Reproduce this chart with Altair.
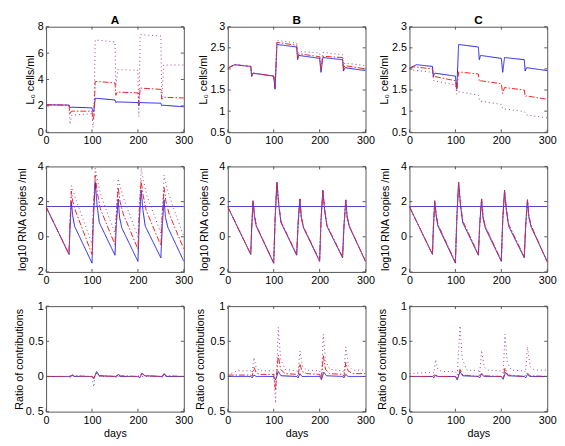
import altair as alt
import pandas as pd

# ---------------- data ----------------
# Row 1: L0 cells/ml
A1_blue_t = [0, 50, 52, 54, 100, 102, 104, 107, 150, 152, 154, 200, 202, 204, 250, 252, 254, 300]
A1_blue_v = [2.08, 2.06, 1.85, 1.9, 1.85, 1.55, 1.6, 2.58, 2.45, 2.25, 2.3, 2.25, 2.0, 2.25, 2.2, 2.0, 2.05, 1.93]
A1_red_t = [0, 50, 52, 55, 100, 102, 104, 107, 150, 152, 155, 200, 202, 205, 250, 252, 255, 300]
A1_red_v = [2.08, 2.06, 1.35, 1.6, 1.6, 0.9, 1.2, 3.85, 3.75, 2.8, 3.05, 2.98, 2.2, 3.35, 3.25, 2.5, 2.65, 2.6]
A1_pur_t = [0, 50, 52, 56, 100, 102, 104, 107, 150, 152, 156, 200, 202, 205, 250, 252, 256, 300]
A1_pur_v = [2.08, 2.05, 0.6, 1.3, 1.4, 0.35, 1.0, 7.0, 6.85, 3.5, 4.75, 4.7, 1.2, 7.4, 7.3, 2.5, 5.1, 5.1]

B1_blue_t = [0, 15, 50, 52, 55, 100, 103, 107, 150, 152, 155, 200, 203, 207, 250, 252, 255, 300]
B1_blue_v = [2.02, 2.1, 2.06, 1.82, 1.9, 1.83, 1.52, 2.58, 2.52, 2.22, 2.32, 2.25, 1.92, 2.27, 2.22, 1.95, 2.03, 1.96]
B1_red_t = [0, 15, 50, 52, 55, 100, 103, 107, 150, 152, 155, 200, 203, 207, 250, 252, 255, 300]
B1_red_v = [2.02, 2.1, 2.06, 1.83, 1.9, 1.83, 1.55, 2.63, 2.56, 2.27, 2.36, 2.29, 1.98, 2.3, 2.27, 2.0, 2.08, 2.0]
B1_pur_t = [0, 15, 50, 52, 55, 100, 103, 107, 150, 152, 155, 200, 203, 207, 250, 252, 255, 300]
B1_pur_v = [2.02, 2.1, 2.06, 1.84, 1.9, 1.84, 1.6, 2.68, 2.61, 2.35, 2.41, 2.38, 2.1, 2.39, 2.34, 2.05, 2.14, 2.08]

C1_blue_t = B1_blue_t
C1_blue_v = B1_blue_v
C1_red_t = [0, 10, 50, 52, 55, 100, 103, 107, 150, 152, 155, 200, 203, 207, 250, 252, 255, 300]
C1_red_v = [2.02, 2.05, 2.0, 1.8, 1.82, 1.72, 1.48, 1.93, 1.88, 1.7, 1.72, 1.65, 1.42, 1.56, 1.5, 1.35, 1.36, 1.28]
C1_pur_t = [0, 10, 50, 53, 100, 103, 107, 150, 153, 200, 203, 250, 255, 300]
C1_pur_v = [2.0, 1.97, 1.92, 1.72, 1.62, 1.4, 1.46, 1.38, 1.24, 1.16, 1.06, 0.99, 0.91, 0.84]

# Row 2: log10 RNA copies /ml
A2_blue_t = [0, 50, 52, 55, 58, 62, 100, 103, 107, 111, 116, 150, 153, 157, 160, 165, 200, 203, 207, 211, 216, 250, 253, 257, 260, 265, 300]
A2_blue_v = [1.7, -1.0, 0.5, 2.0, 1.2, 0.6, -1.5, 1.0, 3.1, 1.8, 0.8, -1.05, 0.7, 2.15, 1.1, 0.5, -1.4, 0.9, 2.65, 1.5, 0.6, -1.2, 0.6, 2.1, 1.1, 0.55, -1.4]
A2_red_t = [0, 50, 52, 55, 58, 65, 100, 103, 107, 111, 118, 150, 153, 157, 161, 168, 200, 203, 207, 211, 218, 250, 253, 257, 261, 268, 300]
A2_red_v = [1.7, -1.0, 0.8, 2.6, 2.0, 1.4, -1.0, 1.5, 3.5, 2.6, 1.6, -0.45, 1.2, 2.8, 2.0, 1.3, -0.7, 1.5, 3.2, 2.4, 1.5, -0.5, 1.3, 2.8, 2.0, 1.3, -0.7]
A2_pur_t = [0, 50, 53, 55, 59, 68, 100, 104, 107, 112, 120, 150, 154, 157, 162, 170, 200, 204, 207, 212, 220, 250, 254, 257, 262, 270, 300]
A2_pur_v = [1.7, -1.0, 1.2, 2.9, 2.6, 1.9, -0.4, 2.0, 3.9, 3.2, 2.3, 0.2, 1.8, 3.3, 2.8, 2.1, 0.0, 2.0, 3.9, 3.2, 2.3, 0.2, 1.8, 3.5, 2.9, 2.2, 0.0]

B2_blue_t = A2_blue_t
B2_blue_v = A2_blue_v
B2_red_t = [0, 50, 52, 55, 58, 62, 100, 103, 107, 111, 116, 150, 153, 157, 160, 165, 200, 203, 207, 211, 216, 250, 253, 257, 260, 265, 300]
B2_red_v = [1.7, -1.0, 0.5, 2.05, 1.25, 0.65, -1.5, 1.0, 3.1, 1.85, 0.85, -1.0, 0.7, 2.15, 1.15, 0.55, -1.35, 0.9, 2.6, 1.55, 0.65, -1.15, 0.6, 2.1, 1.15, 0.6, -1.4]
B2_pur_t = B2_red_t
B2_pur_v = B2_red_v

C2_blue_t = A2_blue_t
C2_blue_v = A2_blue_v
C2_red_t = B2_red_t
C2_red_v = [1.7, -1.0, 0.5, 2.05, 1.3, 0.7, -1.45, 1.0, 3.1, 1.9, 0.9, -1.0, 0.7, 2.15, 1.2, 0.6, -1.35, 0.9, 2.6, 1.6, 0.7, -1.15, 0.6, 2.1, 1.2, 0.65, -1.45]
C2_pur_t = C2_red_t
C2_pur_v = C2_red_v

HLINE_V = [1.72]

# Row 3: Ratio of contributions
A3_blue_t = [0, 50, 53, 57, 62, 100, 104, 110, 116, 150, 153, 157, 162, 200, 204, 209, 215, 250, 253, 257, 262, 300]
A3_blue_v = [0, 0, -0.01, 0.02, 0.0, 0.0, -0.03, 0.07, 0.01, 0.0, -0.01, 0.03, 0.0, 0.0, -0.02, 0.05, 0.01, 0.0, -0.01, 0.04, 0.0, 0.0]
A3_red_t = [0, 50, 57, 62, 100, 104, 110, 116, 150, 157, 162, 200, 209, 215, 250, 257, 262, 300]
A3_red_v = [0.0, 0.0, 0.02, 0.01, 0.0, -0.02, 0.05, 0.01, 0.0, 0.03, 0.01, 0.0, 0.04, 0.01, 0.0, 0.03, 0.01, 0.0]
A3_pur_t = [0, 100, 104, 106, 110, 116, 300]
A3_pur_v = [0.0, 0.0, -0.15, 0.0, 0.04, 0.0, 0.0]

B3_blue_t = [0, 50, 53, 57, 62, 100, 104, 110, 116, 150, 153, 157, 162, 200, 204, 209, 215, 250, 253, 257, 262, 300]
B3_blue_v = [0, 0, -0.02, 0.02, 0, 0, -0.05, 0.07, 0.01, 0, -0.02, 0.04, 0.0, 0, -0.04, 0.06, 0.01, 0, -0.02, 0.03, 0, 0]
B3_red_t = [0, 50, 53, 57, 62, 70, 100, 104, 106, 110, 115, 125, 150, 153, 157, 162, 172, 200, 204, 208, 213, 222, 250, 253, 257, 262, 272, 300]
B3_red_v = [0.02, 0.02, 0.0, 0.13, 0.05, 0.03, 0.03, -0.2, 0.0, 0.3, 0.1, 0.04, 0.03, 0.0, 0.18, 0.07, 0.04, 0.03, -0.05, 0.3, 0.1, 0.04, 0.03, 0.0, 0.2, 0.08, 0.04, 0.04]
B3_pur_t = [0, 20, 50, 53, 57, 62, 70, 100, 104, 106, 110, 115, 125, 150, 153, 157, 163, 172, 200, 204, 208, 213, 222, 250, 253, 257, 263, 272, 300]
B3_pur_v = [0.02, 0.08, 0.08, 0.05, 0.27, 0.12, 0.08, 0.08, -0.38, 0.0, 0.7, 0.25, 0.1, 0.08, 0.05, 0.36, 0.14, 0.09, 0.08, 0.0, 0.6, 0.22, 0.1, 0.08, 0.05, 0.42, 0.15, 0.09, 0.09]

C3_blue_t = B3_blue_t
C3_blue_v = B3_blue_v
C3_red_t = [0, 50, 55, 60, 100, 104, 110, 116, 150, 157, 162, 200, 204, 208, 214, 250, 257, 262, 300]
C3_red_v = [0.0, 0.0, 0.02, 0.0, 0.0, -0.03, 0.1, 0.02, 0.0, 0.05, 0.01, 0.0, -0.01, 0.12, 0.02, 0.0, 0.05, 0.01, 0.0]
C3_pur_t = [0, 50, 53, 57, 62, 70, 100, 104, 110, 115, 125, 150, 153, 157, 163, 172, 200, 204, 208, 213, 222, 250, 253, 257, 263, 272, 300]
C3_pur_v = [0.04, 0.06, 0.05, 0.24, 0.1, 0.07, 0.07, 0.02, 0.72, 0.25, 0.09, 0.08, 0.05, 0.37, 0.13, 0.09, 0.08, 0.05, 0.6, 0.2, 0.09, 0.08, 0.06, 0.42, 0.14, 0.09, 0.09]

COLUMN_TITLES = ["A", "B", "C"]
X_TICKS = [0, 100, 200, 300]

# ---------------- styling ----------------
FONT = "Liberation Sans"
BLUE = "#1f1fe6"
RED = "#ee2222"
PURPLE = "#a03c9a"
HLINE = "#4646c8"
FRAME = "#555555"
W, H = 141, 108
TK = 3  # inward tick length

DOT = [1, 3]
DASHDOT = [6, 2, 1.5, 2]
SOLID = [1, 0]


def panel(series, ydom, yticks, ytitle, tpad, title=None, xtitle=None, label_expr="datum.label", hline=False):
    xscale = alt.Scale(domain=[0, 300], nice=False)
    yaxis = alt.Axis(values=yticks, title=ytitle, titlePadding=tpad, labelPadding=3,
                     format="~g", labelExpr=label_expr, labelFlush=False)
    y = alt.Y("v:Q", scale=alt.Scale(domain=ydom, nice=False), axis=yaxis)
    x = alt.X("t:Q", scale=xscale,
              axis=alt.Axis(values=X_TICKS, title=xtitle if xtitle else None,
                            labelPadding=3, titlePadding=2, labelFlush=False))
    layers = []
    if hline:
        hdf = pd.DataFrame({"v": HLINE_V})
        layers.append(alt.Chart(hdf).mark_rule(color=HLINE, strokeWidth=1).encode(y=y))
    for (t, v, color, dash) in series:
        df = pd.DataFrame({"t": t, "v": v})
        layers.append(
            alt.Chart(df).mark_line(color=color, strokeWidth=1, strokeDash=dash, clip=True)
            .encode(x=x, y=y)
        )
    # inward ticks (MATLAB style) at the tick values, on all four sides
    xt = pd.DataFrame({"t": X_TICKS})
    yt = pd.DataFrame({"v": yticks})
    tick = dict(color=FRAME, strokeWidth=1)
    layers.append(alt.Chart(xt).mark_rule(**tick).encode(x=x, y=alt.value(0), y2=alt.value(TK)))
    layers.append(alt.Chart(xt).mark_rule(**tick).encode(x=x, y=alt.value(H - TK), y2=alt.value(H)))
    layers.append(alt.Chart(yt).mark_rule(**tick).encode(y=y, x=alt.value(0), x2=alt.value(TK)))
    layers.append(alt.Chart(yt).mark_rule(**tick).encode(y=y, x=alt.value(W - TK), x2=alt.value(W)))
    if title:
        tdf = pd.DataFrame({"label": [title]})
        layers.append(
            alt.Chart(tdf).mark_text(font=FONT, fontSize=12, fontWeight="bold", color="black",
                                     align="center", baseline="alphabetic")
            .encode(text="label:N", x=alt.value(W / 2), y=alt.value(-3))
        )
    return alt.layer(*layers).properties(width=W, height=H)


ytop_A = [0, 2, 4, 6, 8]
ytop_BC = [0.5, 1, 1.5, 2, 2.5, 3]
ymid = [-2, 0, 2, 4]
ybot = [-0.5, 0, 0.5, 1]
mid_expr = "'' + abs(datum.value)"
bot_expr = "datum.value == -0.5 ? '0. 5' : datum.label"

L0 = "L\u2080 cells/ml"
RNA = "log10 RNA copies /ml"
RAT = "Ratio of contributions"

panels = [
    panel([(A1_blue_t, A1_blue_v, BLUE, SOLID), (A1_red_t, A1_red_v, RED, DASHDOT),
           (A1_pur_t, A1_pur_v, PURPLE, DOT)], [0, 8], ytop_A, L0, 2, title=COLUMN_TITLES[0]),
    panel([(B1_blue_t, B1_blue_v, BLUE, SOLID), (B1_red_t, B1_red_v, RED, DASHDOT),
           (B1_pur_t, B1_pur_v, PURPLE, DOT)], [0.5, 3], ytop_BC, L0, 2, title=COLUMN_TITLES[1]),
    panel([(C1_blue_t, C1_blue_v, BLUE, SOLID), (C1_red_t, C1_red_v, RED, DASHDOT),
           (C1_pur_t, C1_pur_v, PURPLE, DOT)], [0.5, 3], ytop_BC, L0, 2, title=COLUMN_TITLES[2]),
    panel([(A2_blue_t, A2_blue_v, BLUE, SOLID), (A2_red_t, A2_red_v, RED, DASHDOT),
           (A2_pur_t, A2_pur_v, PURPLE, DOT)], [-2, 4], ymid, RNA, 10, label_expr=mid_expr, hline=True),
    panel([(B2_blue_t, B2_blue_v, BLUE, SOLID), (B2_red_t, B2_red_v, RED, DASHDOT),
           (B2_pur_t, B2_pur_v, PURPLE, DOT)], [-2, 4], ymid, RNA, 10, label_expr=mid_expr, hline=True),
    panel([(C2_blue_t, C2_blue_v, BLUE, SOLID), (C2_red_t, C2_red_v, RED, DASHDOT),
           (C2_pur_t, C2_pur_v, PURPLE, DOT)], [-2, 4], ymid, RNA, 10, label_expr=mid_expr, hline=True),
    panel([(A3_blue_t, A3_blue_v, BLUE, SOLID), (A3_red_t, A3_red_v, RED, DASHDOT),
           (A3_pur_t, A3_pur_v, PURPLE, DOT)], [-0.5, 1], ybot, RAT, 1, xtitle="days", label_expr=bot_expr),
    panel([(B3_blue_t, B3_blue_v, BLUE, SOLID), (B3_red_t, B3_red_v, RED, DASHDOT),
           (B3_pur_t, B3_pur_v, PURPLE, DOT)], [-0.5, 1], ybot, RAT, 1, xtitle="days", label_expr=bot_expr),
    panel([(C3_blue_t, C3_blue_v, BLUE, SOLID), (C3_red_t, C3_red_v, RED, DASHDOT),
           (C3_pur_t, C3_pur_v, PURPLE, DOT)], [-0.5, 1], ybot, RAT, 1, xtitle="days", label_expr=bot_expr),
]

chart = alt.concat(
    *panels, columns=3, spacing={"row": 35, "column": 45}, bounds="flush",
    padding={"left": 5, "top": 0, "right": 0, "bottom": 2},
).configure_view(
    stroke=FRAME, strokeWidth=1
).configure_axis(
    grid=False, domain=False, ticks=False, labelFont=FONT, titleFont=FONT, labelFontSize=11,
    titleFontSize=11, titleFontWeight="normal", labelColor="black", titleColor="black"
)

chart.save("out.html", embed_options={"renderer": "svg", "actions": False})
